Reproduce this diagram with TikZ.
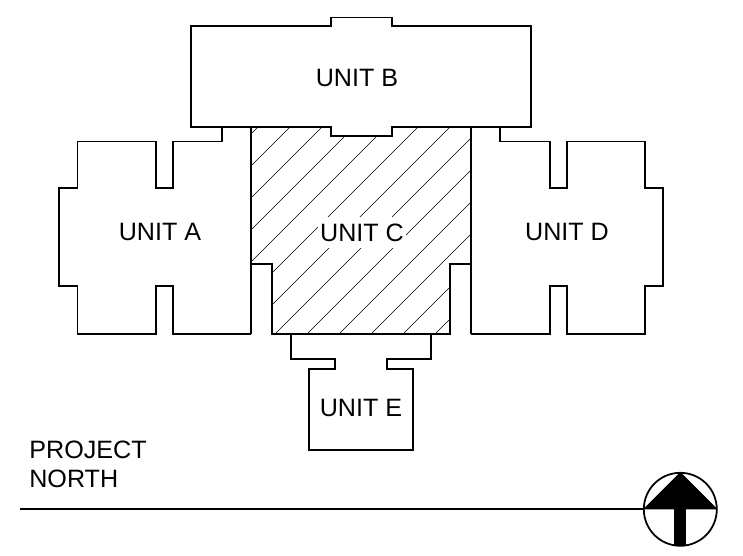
\documentclass[tikz,border=0pt]{standalone}
\usepackage{fontspec}
\setmainfont{Liberation Sans}
\tikzset{
    wall/.style={draw, line width=1pt, line join=miter},
    hatchline/.style={draw, line width=0.35pt},
    unitlabel/.style={font=\fontsize{14.3}{16.6}\selectfont, inner sep=1pt},
}
\begin{document}
\begin{tikzpicture}[x=0.02cm, y=-0.02cm]
    \useasboundingbox (0,0) rectangle (743,555);

    % hatching of unit C
    \begin{scope}
        \clip (251,127) -- (330.7,127) -- (330.7,136) -- (391.7,136) -- (391.7,127) -- (471,127) -- (471,264) -- (450,264) -- (450,334) -- (272.3,334) -- (272.3,264) -- (251,264) -- cycle;
        \foreach \c in {385,417,...,801} {
            \draw[hatchline] (\c-100,100) -- (\c-400,400);
        }
    \end{scope}

    % unit A
    \draw[wall] (251,334) -- (172.7,334) -- (172.7,286.3) -- (156,286.3) -- (156,334) -- (77.5,334) -- (77.5,286.3) -- (59,286.3) -- (59,187.7) -- (77.5,187.7) -- (77.5,141.5) -- (156,141.5) -- (156,187.7) -- (172.7,187.7) -- (172.7,141.5) -- (222,141.5) -- (222,127);

    % unit B
    \draw[wall] (191,26) -- (330.7,26) -- (330.7,17.5) -- (391.7,17.5) -- (391.7,26) -- (531,26) -- (531,127) -- (391.7,127) -- (391.7,136) -- (330.7,136) -- (330.7,127) -- (191,127) -- cycle;

    % unit C
    \draw[wall] (251,127) -- (251,334);
    \draw[wall] (251,264) -- (272.3,264) -- (272.3,334) -- (450,334) -- (450,264) -- (471,264);
    \draw[wall] (471,127) -- (471,334);

    % unit D
    \draw[wall] (471,334) -- (549.7,334) -- (549.7,286.3) -- (566.7,286.3) -- (566.7,334) -- (644.7,334) -- (644.7,286.3) -- (663,286.3) -- (663,187.7) -- (644.7,187.7) -- (644.7,141.5) -- (566.7,141.5) -- (566.7,187.7) -- (549.7,187.7) -- (549.7,141.5) -- (500.3,141.5) -- (500.3,127);

    % unit E
    \draw[wall] (291.3,334) -- (291.3,359.3) -- (335,359.3) -- (335,369.3) -- (309.3,369.3) -- (309.3,449.7) -- (412.7,449.7) -- (412.7,369.3) -- (387,369.3) -- (387,359.3) -- (430.7,359.3) -- (430.7,334);

    \node[unitlabel] (UB) at (357,78) {UNIT B};
    \node[unitlabel] (UA) at (160,232) {UNIT A};
    \node[unitlabel, fill=white, minimum height=0.62cm] (UC) at (362,232.5) {UNIT C};
    \node[unitlabel] (UD) at (567,232) {UNIT D};
    \node[unitlabel] (UE) at (361,408) {UNIT E};

    \node[unitlabel, anchor=west, align=left, inner sep=0pt] (PN) at (29,464.5) {PROJECT\\NORTH};

    % north arrow
    \coordinate (LS) at (20,509.3);
    \node[draw, shape=circle, line width=1pt, minimum size=1.46cm, inner sep=0pt] (NC) at (680.3,509.3) {};
    \draw[line width=1pt] (LS) -- (NC.west);
    \fill (NC.north) -- (NC.east) -- (NC.west) -- cycle;
    \fill (674.3,509.3) rectangle (685.7,546);
\end{tikzpicture}
\end{document}
